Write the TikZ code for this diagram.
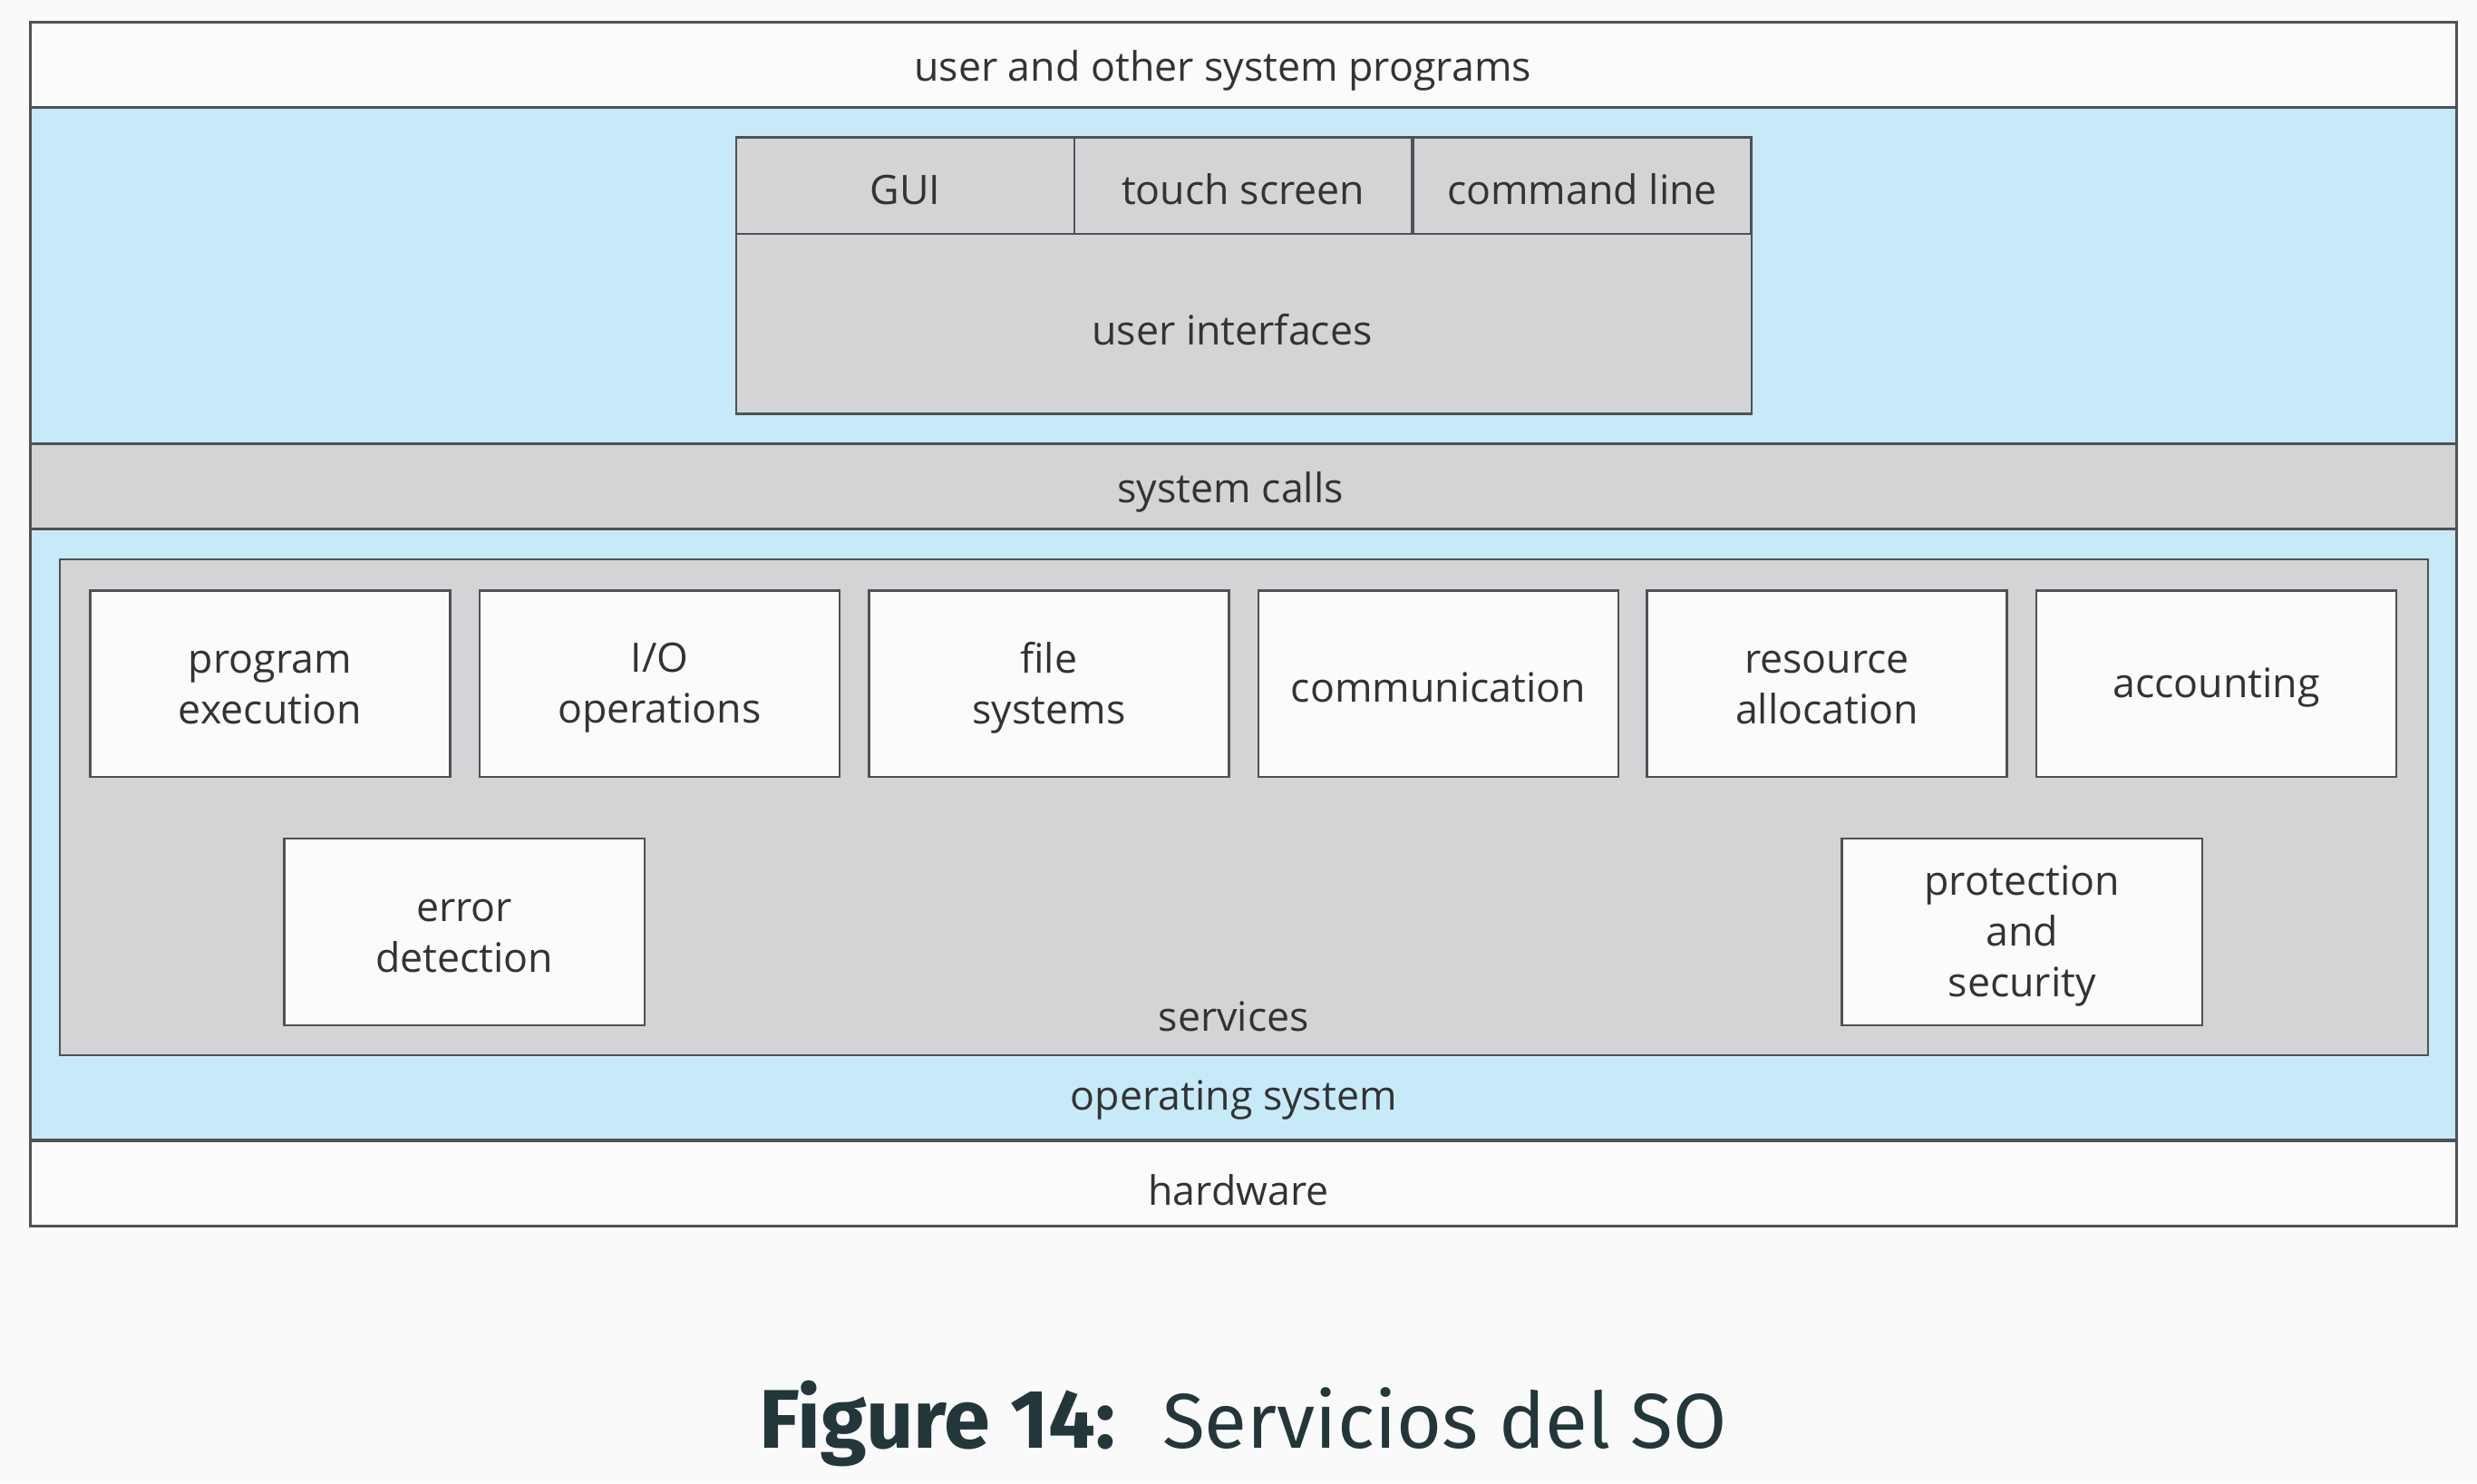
\documentclass[tikz,border=0pt]{standalone}
\usepackage{fontspec}
\setmainfont{Open Sans}
\newfontfamily\capfont{Fira Sans}
\definecolor{osblue}{HTML}{C7EAF9}
\definecolor{svcgray}{HTML}{D3D4D6}
\definecolor{boxwhite}{HTML}{FBFBFB}
\definecolor{edge}{HTML}{4F5154}
\definecolor{txtcol}{HTML}{333333}
\definecolor{capcol}{HTML}{23373B}
\definecolor{pagebg}{HTML}{FAFAFA}

\begin{document}
\begin{tikzpicture}[x=0.02cm,y=-0.02cm,
    txt/.style={text=txtcol,font=\fontsize{14.6}{18.4}\selectfont,align=center,inner sep=0pt,yshift=-0.05cm},
    svcbox/.style={draw=edge,fill=boxwhite,line width=0.8pt,minimum width=4.56cm,minimum height=2.36cm,inner sep=0pt,label={[txt]center:#1}},
    uicell/.style={draw=edge,fill=svcgray,line width=0.8pt,minimum width=4.28cm,minimum height=1.22cm,inner sep=0pt,label={[txt]center:#1}}]
    % page
    \fill[pagebg] (0,0) rectangle (1568,939);

    % layers
    \fill[boxwhite] (19,14) rectangle (1555,68);
    \fill[osblue] (19,68) rectangle (1555,722);
    \fill[boxwhite] (19,722) rectangle (1555,776);
    \filldraw[fill=svcgray,draw=edge,line width=0.8pt] (19,281) rectangle (1555,335);
    \draw[edge,line width=1pt] (19,68) -- (1555,68);
    \draw[edge,line width=1pt] (19,722) -- (1555,722);
    \draw[edge,line width=1pt] (19,14) rectangle (1555,776);

    \node[txt] (usrprog) at (774,42) {user and other system programs};
    \node[txt] (syscalls) at (779,309) {system calls};
    \node[txt] (hw) at (784,751) {hardware};
    \node[txt] (os) at (781,694) {operating system};

    % user interfaces
    \node[uicell=GUI] (gui) at (573,117.5) {};
    \node[uicell=touch screen] (touch) at (787,117.5) {};
    \node[uicell=command line] (cmd) at (1001.5,117.5) {};
    \node[draw=edge,fill=svcgray,line width=0.8pt,minimum width=12.86cm,minimum height=2.28cm] (ui) at (787.5,205) {};
    \node[txt] (uilbl) at (780,206) {user interfaces};

    % services
    \filldraw[fill=svcgray,draw=edge,line width=0.8pt] (38,354) rectangle (1537,668);
    \node[txt] (svc) at (781,641) {services};

    \node[svcbox={program\\execution}] (progexec) at (171,433) {};
    \node[svcbox={I/O\\operations}] (io) at (417.5,433) {};
    \node[svcbox={file\\systems}] (fs) at (664,433) {};
    \node[svcbox=communication] (comm) at (910.5,433) {};
    \node[svcbox={resource\\allocation}] (res) at (1156.5,433) {};
    \node[svcbox=accounting] (acct) at (1403,433) {};
    \node[svcbox={error\\detection}] (err) at (294,590) {};
    \node[svcbox={protection\\and\\security}] (prot) at (1280,590) {};

    % caption
    \node[anchor=base,inner sep=0pt,text=capcol,font=\capfont\fontsize{28}{34}\selectfont] (caption) at (787,917) {{\fontsize{30}{34}\selectfont\bfseries Figure 14:}\hspace{0.6em}Servicios del SO};
\end{tikzpicture}
\end{document}
